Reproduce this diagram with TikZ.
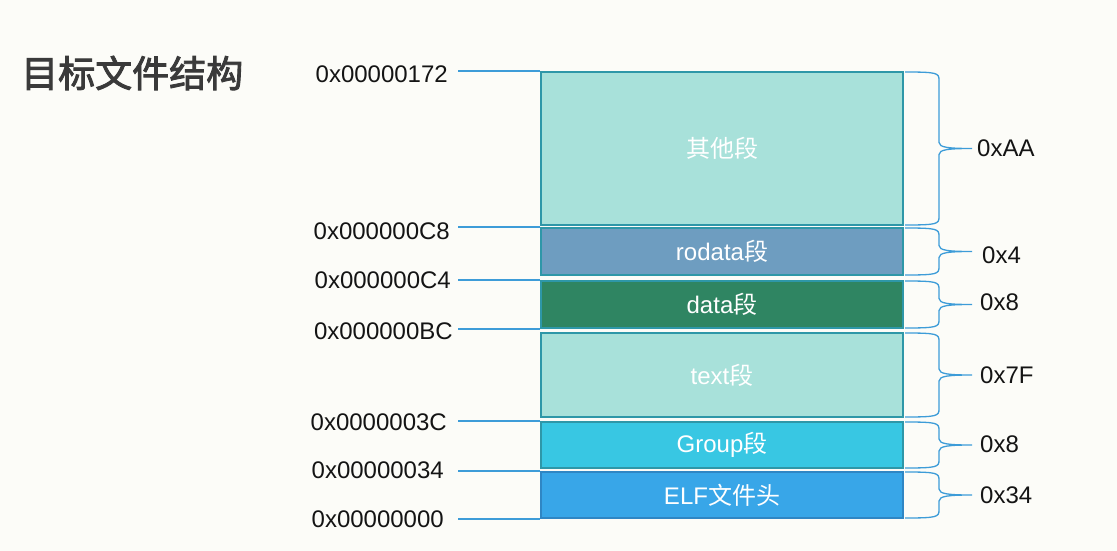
\documentclass[tikz,border=0pt]{standalone}
\usepackage{fontspec}
\setmainfont{Liberation Sans}
\newfontfamily\cjk{Noto Sans CJK SC}
\newfontfamily\cjkb{Noto Sans CJK SC}[FakeBold=2.4]
\usetikzlibrary{calc}
\definecolor{bgcol}{RGB}{252,252,248}
\definecolor{tealfill}{RGB}{168,225,218}
\definecolor{segborder}{RGB}{46,151,168}
\definecolor{rofill}{RGB}{110,157,192}
\definecolor{datafill}{RGB}{47,133,98}
\definecolor{grpfill}{RGB}{56,199,227}
\definecolor{elffill}{RGB}{56,166,232}
\definecolor{elfborder}{RGB}{47,134,196}
\definecolor{linecol}{RGB}{61,156,216}
\definecolor{titlecol}{RGB}{58,58,58}
\tikzset{
  seg/.style={draw=segborder, line width=2.4pt, minimum width=361.6pt, inner sep=0pt,
    text=white, font=\fontsize{24}{28}\selectfont},
  addr/.style={anchor=east, inner sep=0pt, text={rgb,255:red,20;green,20;blue,20},
    font=\fontsize{24}{28}\selectfont},
  lab/.style={anchor=west, inner sep=0pt, text={rgb,255:red,20;green,20;blue,20},
    font=\fontsize{24}{28}\selectfont},
  conn/.style={draw=linecol, line width=1.3pt},
  bracestyle/.style={draw=linecol, line width=1.3pt},
}
\newcommand\segbrace[3]{%
  \draw[bracestyle] let \p1=(#1.north east), \p2=(#1.south east),
      \p3=($(#1.north east)!0.5!(#1.south east)$) in
    (\x1+1pt,\y1-1pt) .. controls (\x1+33pt,\y1-1pt) and (\x1+35pt,\y1-2pt) .. (\x1+35pt,\y1-9pt)
    -- (\x1+35pt,\y3+6pt) .. controls (\x1+35pt,\y3+1pt) and (\x1+45pt,\y3) .. (\x1+68pt,\y3)
    coordinate (#1t)
    .. controls (\x1+45pt,\y3) and (\x1+35pt,\y3-1pt) .. (\x1+35pt,\y3-6pt)
    -- (\x1+35pt,\y2+9pt) .. controls (\x1+35pt,\y2+2pt) and (\x1+33pt,\y2+1pt) .. (\x1+1pt,\y2+1pt);
  \node[lab] (#1l) at ([#3]#1t) {#2};
}
\begin{document}
\begin{tikzpicture}[x=1pt,y=-1pt]
\fill[bgcol] (0,0) rectangle (1117,551);
\useasboundingbox (0,0) rectangle (1117,551);

% title
\node[anchor=west, inner sep=0pt, text=titlecol, font=\cjkb\fontsize{37}{40}\selectfont] (title) at (21,73) {目标文件结构};

% segments
\node[seg, fill=tealfill, minimum height=152.6pt] (b1) at (722,148.5) {\cjk 其他段};
\node[seg, fill=rofill, minimum height=46.6pt] (b2) at (722,251.5) {rodata{\cjk 段}};
\node[seg, fill=datafill, minimum height=46.6pt] (b3) at (722,304.5) {data{\cjk 段}};
\node[seg, fill=tealfill, minimum height=83.6pt] (b4) at (722,375) {text{\cjk 段}};
\node[seg, fill=grpfill, minimum height=45.6pt] (b5) at (722,445) {Group{\cjk 段}};
\node[seg, draw=elfborder, fill=elffill, minimum height=45.6pt] (b6) at (722,495) {ELF{\cjk 文件头}};

% address labels
\node[addr] (a1) at (448,74) {0x00000172};
\node[addr] (a2) at (450,231) {0x000000C8};
\node[addr] (a3) at (451,280) {0x000000C4};
\node[addr] (a4) at (453,331) {0x000000BC};
\node[addr] (a5) at (447,422) {0x0000003C};
\node[addr] (a6) at (444,470) {0x00000034};
\node[addr] (a7) at (444,519) {0x00000000};

\coordinate (s) at (458,0);
\draw[conn] (b1.north west -| s) -- (b1.north west);
\draw[conn] (b2.north west -| s) -- (b2.north west);
\draw[conn] (b3.north west -| s) -- (b3.north west);
\draw[conn] (b3.south west -| s) -- (b3.south west);
\draw[conn] (b5.north west -| s) -- (b5.north west);
\draw[conn] (b6.north west -| s) -- (b6.north west);
\draw[conn] (b6.south west -| s) -- (b6.south west);

% braces with sizes
\segbrace{b1}{0xAA}{xshift=5pt}
\segbrace{b2}{0x4}{xshift=10pt,yshift=-4pt}
\segbrace{b3}{0x8}{xshift=8pt,yshift=2pt}
\segbrace{b4}{0x7F}{xshift=8pt}
\segbrace{b5}{0x8}{xshift=8pt,yshift=1pt}
\segbrace{b6}{0x34}{xshift=8pt}
\end{tikzpicture}
\end{document}
